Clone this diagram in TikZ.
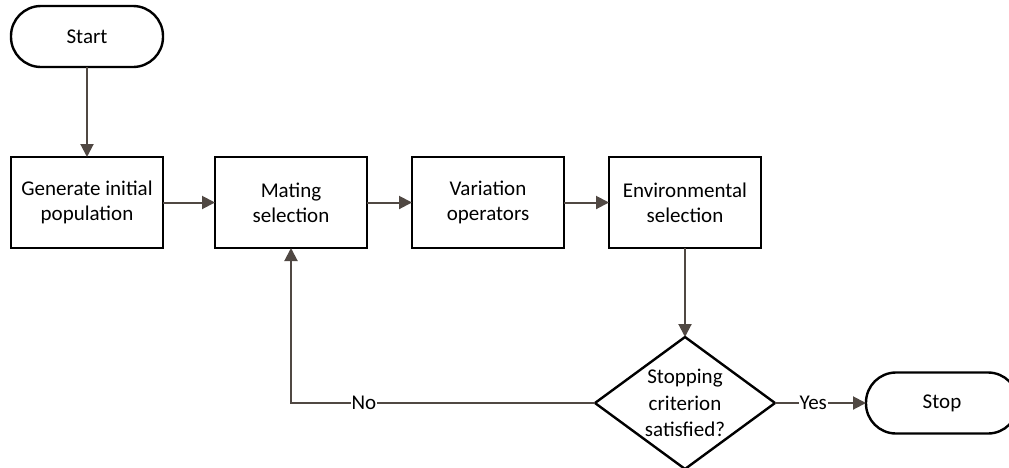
\documentclass[tikz,border=0pt]{standalone}
\usepackage{fontspec}
\setmainfont{Carlito}
\usepackage{tikz}
\usetikzlibrary{shapes.geometric,arrows.meta,positioning}
\definecolor{linija}{RGB}{80,72,67}

\begin{document}
\begin{tikzpicture}[
    x=1pt,y=1pt,
    font=\fontsize{21}{25}\selectfont,
    node distance=45pt and 45pt,
    blok/.style={rectangle,draw,line width=2.4pt,minimum width=152pt,
                 minimum height=91pt,align=center,inner sep=0pt,outer sep=0pt},
    terminal/.style={blok,rounded corners=30pt,minimum height=61pt},
    odluka/.style={diamond,draw,line width=2.4pt,minimum width=180pt,
                   minimum height=132pt,align=center,inner sep=-30pt,outer sep=0pt,
                   font=\fontsize{21}{26.5}\selectfont},
    strelica/.style={-{Triangle[length=13pt,width=13pt]},line width=2pt,draw=linija},
    oznaka/.style={fill=white,inner sep=1pt,text=black}
]
\useasboundingbox (0,0) rectangle (1009,-467);
\clip (0,0) rectangle (1009,-467);

\node[blok] (gen) at (87,-202.5) {Generate initial\\population};
\node[terminal,above=90pt of gen] (start) {Start};
\node[blok,right=52pt of gen] (mate) {Mating\\selection};
\node[blok,right=of mate] (var) {Variation\\operators};
\node[blok,right=of var] (env) {Environmental\\selection};
\node[odluka,below=89pt of env] (crit) {Stopping\\criterion\\satisfied?};
\node[terminal,right=91pt of crit] (stop) {Stop};

\draw[strelica] (start) -- (gen);
\draw[strelica] (gen) -- (mate);
\draw[strelica] (mate) -- (var);
\draw[strelica] (var) -- (env);
\draw[strelica] (env) -- (crit);
\draw[strelica] (crit) -- node[oznaka,pos=0.42] {Yes} (stop);
\draw[strelica] (crit.west) -| node[oznaka,pos=0.38] {No} (mate.south);
\end{tikzpicture}
\end{document}
